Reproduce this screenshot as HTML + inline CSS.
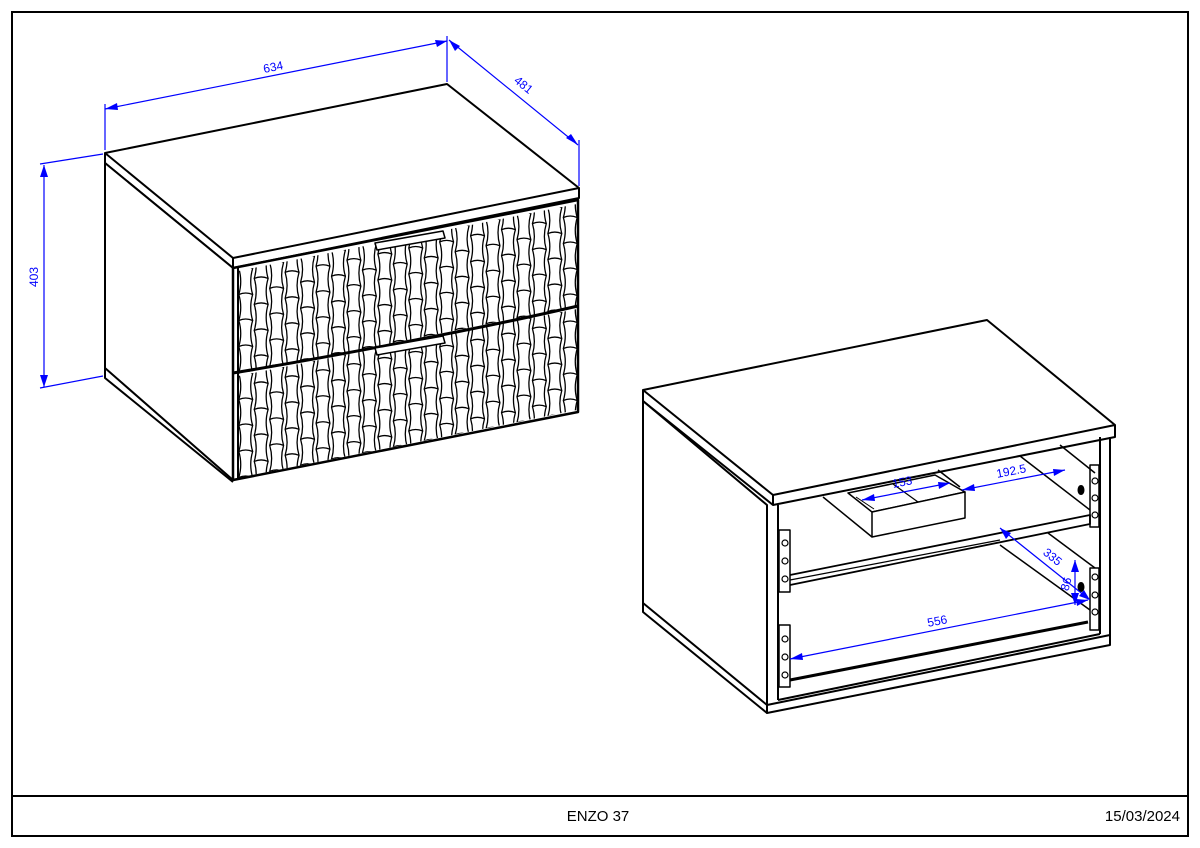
<!DOCTYPE html>
<html><head><meta charset="utf-8"><style>
html,body{margin:0;padding:0;background:#fff}
svg{display:block}
text{font-family:"Liberation Sans",sans-serif}
</style></head><body>
<svg width="1200" height="848" viewBox="0 0 1200 848" xmlns="http://www.w3.org/2000/svg">
<defs>
<clipPath id="d1"><polygon points="238,271 577,204 577,306 238,374"/></clipPath>
<clipPath id="d2"><polygon points="238,376 577,309 577,410 238,478"/></clipPath>
</defs>
<rect x="0" y="0" width="1200" height="848" fill="#fff"/>
<rect x="12" y="12" width="1176" height="824" fill="none" stroke="#000" stroke-width="2"/>
<line x1="12" y1="796" x2="1188" y2="796" stroke="#000" stroke-width="2"/>
<text x="598" y="821" font-size="15" text-anchor="middle">ENZO 37</text>
<text x="1180" y="821" font-size="15" text-anchor="end">15/03/2024</text>

<g fill="none" stroke="#000" stroke-width="2" stroke-linejoin="round">
<!-- LEFT cabinet -->
<polygon points="105,153 447,84 579,188 233,258" fill="#fff"/>
<polyline points="105,153 105,163 233,268 579,198 579,188"/>
<line x1="233" y1="258" x2="233" y2="268"/>
<polygon points="105,163 233,268 233,480 105,368" fill="#fff"/>
<polyline points="105,368 105,378 233,482"/>
<polygon points="233,268 578,200 578,412 233,480" fill="#fff" stroke-width="2.5"/>
<line x1="238" y1="268" x2="238" y2="480"/>
<g id="p1" stroke-width="1.3" clip-path="url(#d1)"></g>
<g id="p2" stroke-width="1.3" clip-path="url(#d2)"></g>
<path d="M233,373 Q300,362 400,343 T578,306" stroke-width="3"/>
<polygon points="375,243 443,231 445,238 377,250" fill="#fff" stroke-width="1.5"/>
<polygon points="375,348 443,336 445,343 377,355" fill="#fff" stroke-width="1.5"/>

<!-- RIGHT cabinet -->
<polygon points="643,390 987,320 1115,425 773,495" fill="#fff"/>
<polyline points="643,390 643,401 773,505 1115,437 1115,425"/>
<line x1="773" y1="495" x2="773" y2="505"/>
<polygon points="643,401 767,505 767,705 643,603"/>
<polyline points="643,603 643,612 767,713"/>
<line x1="778" y1="505" x2="778" y2="700"/>
<polyline points="767,705 1110,635 1110,645 767,713 767,705"/>
<line x1="778" y1="700" x2="1100" y2="634"/>
<line x1="1100" y1="437" x2="1100" y2="634"/>
<line x1="1110" y1="437" x2="1110" y2="635"/>
<line x1="823" y1="497" x2="872" y2="537" stroke-width="1.5"/>
<line x1="938" y1="470" x2="960" y2="487" stroke-width="1.5"/>
<line x1="1020" y1="456" x2="1090" y2="510" stroke-width="1.5"/>
<line x1="1060" y1="445" x2="1095" y2="473" stroke-width="1.5"/>
<line x1="1000" y1="545" x2="1090" y2="610" stroke-width="1.5"/>
<line x1="1048" y1="533" x2="1095" y2="568" stroke-width="1.5"/>
<polygon points="848,493 935,475 965,492 872,512" fill="#fff" stroke-width="1.5"/>
<polygon points="872,512 965,492 965,518 872,537" fill="#fff" stroke-width="1.5"/>
<line x1="893" y1="484" x2="918" y2="502" stroke-width="1.2"/>
<line x1="856" y1="497" x2="874" y2="509" stroke-width="1"/>
<polyline points="790,575 1090,515 1090,524 790,585" stroke-width="1.8"/>
<line x1="790" y1="580" x2="1000" y2="540" stroke-width="1.2"/>
<line x1="790" y1="680" x2="1088" y2="622" stroke-width="3"/>
<rect x="779" y="530" width="11" height="62" stroke-width="1.5"/>
<rect x="779" y="625" width="11" height="62" stroke-width="1.5"/>
<rect x="1090" y="465" width="9" height="62" stroke-width="1.5"/>
<rect x="1090" y="568" width="9" height="62" stroke-width="1.5"/>
<g stroke-width="1.2">
<circle cx="785" cy="543" r="3"/><circle cx="785" cy="561" r="3"/><circle cx="785" cy="579" r="3"/>
<circle cx="785" cy="639" r="3"/><circle cx="785" cy="657" r="3"/><circle cx="785" cy="675" r="3"/>
<circle cx="1095" cy="481" r="3"/><circle cx="1095" cy="498" r="3"/><circle cx="1095" cy="515" r="3"/>
<circle cx="1095" cy="577" r="3"/><circle cx="1095" cy="595" r="3"/><circle cx="1095" cy="612" r="3"/>
</g>
<ellipse cx="1081" cy="490" rx="2.5" ry="4" fill="#000"/>
<ellipse cx="1081" cy="587" rx="2.5" ry="4" fill="#000"/>
</g>

<g stroke="#00f" stroke-width="1.2" fill="none">
<line x1="105" y1="150" x2="105" y2="104"/>
<line x1="447" y1="82" x2="447" y2="36"/>
<line x1="105" y1="109" x2="447" y2="41"/>
<line x1="579" y1="186" x2="579" y2="140"/>
<line x1="449" y1="40" x2="578" y2="145"/>
<line x1="103" y1="154" x2="40" y2="164"/>
<line x1="103" y1="376" x2="40" y2="388"/>
<line x1="44" y1="165" x2="44" y2="387"/>
<line x1="862" y1="500" x2="950" y2="483"/>
<line x1="962" y1="490" x2="1065" y2="470"/>
<line x1="1000" y1="528" x2="1090" y2="600"/>
<line x1="1075" y1="560" x2="1075" y2="605"/>
<line x1="790" y1="659" x2="1088" y2="600"/>
</g>
<g fill="#00f">
<polygon points="105,109 117,103 118,110"/>
<polygon points="447,41 435,40 437,47"/>
<polygon points="449,40 455,51 460,46"/>
<polygon points="578,145 566,138 571,134"/>
<polygon points="44,165 40,177 48,177"/>
<polygon points="44,387 40,375 48,375"/>
<polygon points="862,500 874,494 875,501"/>
<polygon points="950,483 938,482 939,489"/>
<polygon points="962,490 974,484 975,491"/>
<polygon points="1065,470 1053,469 1054,476"/>
<polygon points="1000,528 1006,539 1011,533"/>
<polygon points="1090,600 1079,596 1084,590"/>
<polygon points="1075,560 1071,572 1079,572"/>
<polygon points="1075,605 1071,593 1079,593"/>
<polygon points="790,659 802,653 803,660"/>
<polygon points="1088,600 1076,599 1077,606"/>
</g>
<g fill="#00f" font-size="12">
<text x="274" y="71" transform="rotate(-11.3 274 71)" text-anchor="middle">634</text>
<text x="521" y="88" transform="rotate(39 521 88)" text-anchor="middle">481</text>
<text x="38" y="277" transform="rotate(-90 38 277)" text-anchor="middle">403</text>
<text x="903" y="486" transform="rotate(-11 903 486)" text-anchor="middle">153</text>
<text x="1012" y="475" transform="rotate(-11 1012 475)" text-anchor="middle">192.5</text>
<text x="1050" y="560" transform="rotate(39 1050 560)" text-anchor="middle">335</text>
<text x="1070" y="585" transform="rotate(-75 1070 585)" text-anchor="middle">86</text>
<text x="938" y="625" transform="rotate(-11 938 625)" text-anchor="middle">556</text>
</g>
</svg>
<script>
(function(){
var x0=238,x1=578,n=22,w=(x1-x0)/n,sl=-68/345;
function yTop(x){return 270+(x-238)*sl;}
var offs=[0,105];
for(var d=0;d<2;d++){
 var s='';
 for(var i=0;i<n;i++){
  var xa=x0+i*w+0.8,xb=xa+w-1.6,xm=(xa+xb)/2;
  var t=yTop(xm)+offs[d];
  var rh=26, st=(i%2?rh/2:0)-rh;
  for(var r=0;r<6;r++){
   var y=t+st+r*rh;
   var m=w*0.25;
   s+='<path d="M'+xa+','+y+' Q'+(xa+m)+','+(y+rh/2)+' '+xa+','+(y+rh)+' Q'+xm+','+(y+rh-3)+' '+xb+','+(y+rh)+' Q'+(xb-m)+','+(y+rh/2)+' '+xb+','+y+'"/>';
  }
 }
 document.getElementById(d?'p2':'p1').innerHTML=s;
}
})();
</script>
</body></html>
